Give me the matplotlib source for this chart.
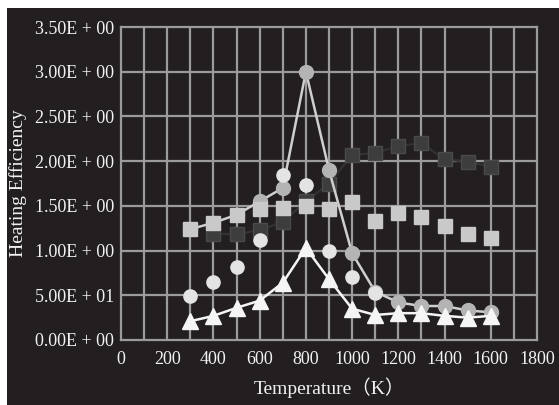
import matplotlib
matplotlib.use("Agg")
import matplotlib.pyplot as plt
import numpy as np

plt.rcParams['font.family'] = ['Liberation Serif', 'Noto Sans CJK JP']

temps = [300, 400, 500, 600, 700, 800, 900, 1000, 1100, 1200, 1300, 1400, 1500, 1600]

# gray circles, with the line that peaks at 800 K
gray_circ = [1.24, 1.31, 1.40, 1.55, 1.70, 3.00, 1.90, 0.97, 0.54, 0.42, 0.38, 0.38, 0.33, 0.31]
# light squares (markers only)
light_sq = [1.24, 1.31, 1.40, 1.47, 1.48, 1.50, 1.47, 1.54, 1.33, 1.42, 1.38, 1.28, 1.19, 1.14]
# dark squares
dark_t = [400, 500, 600, 700, 800, 900, 1000, 1100, 1200, 1300, 1400, 1500, 1600]
dark_sq = [1.19, 1.18, 1.23, 1.32, 1.55, 1.75, 2.07, 2.09, 2.17, 2.20, 2.02, 1.99, 1.94]
# light circles (markers only)
lc_t = [300, 400, 500, 600, 700, 800, 900, 1000, 1100]
light_circ = [0.49, 0.65, 0.82, 1.12, 1.85, 1.73, 0.99, 0.70, 0.52]
# triangles with white line
tri = [0.21, 0.27, 0.36, 0.44, 0.64, 1.03, 0.68, 0.35, 0.28, 0.30, 0.30, 0.27, 0.25, 0.27]

yticks = [0.0, 0.5, 1.0, 1.5, 2.0, 2.5, 3.0, 3.5]
ylabels = ['0.00E + 00', '5.00E + 01', '1.00E + 00', '1.50E + 00',
           '2.00E + 00', '2.50E + 00', '3.00E + 00', '3.50E + 00']
xticks = [0, 200, 400, 600, 800, 1000, 1200, 1400, 1600, 1800]
grid_x = [100, 200, 300, 400, 500, 600, 700, 800, 900, 1000, 1100, 1200, 1300, 1400, 1600, 1700]

bg = '#231f20'
gridc = '#9b9b9b'
txt = '#f2f2f2'

fig = plt.figure(figsize=(5.59, 4.05), dpi=100, facecolor='white')
fig.patches.append(plt.Rectangle((7 / 559, 0), 1, 1 - 8 / 405, transform=fig.transFigure,
                                 facecolor=bg, edgecolor='none', zorder=-10))
ax = fig.add_axes([121 / 559, 1 - 340 / 405, 416 / 559, 313 / 405])
ax.set_facecolor(bg)

ax.set_xlim(0, 1800)
ax.set_ylim(0, 3.5)
for gx in grid_x:
    ax.axvline(gx, color=gridc, lw=1.6, zorder=1)
for gy in yticks[1:-1]:
    ax.axhline(gy, color=gridc, lw=1.6, zorder=1)
for s in ax.spines.values():
    s.set_color(gridc)
    s.set_linewidth(1.6)

ax.plot(dark_t, dark_sq, color='#333333', lw=1.5, marker='s', ms=10,
        mfc='#3d3d3d', mec='#4a4a4a', zorder=3)
ax.plot(temps, gray_circ, color='#cfcfcf', lw=1.8, marker='o', ms=10,
        mfc='#b4b4b4', mec='#b4b4b4', zorder=4)
ax.plot(temps, light_sq, linestyle='none', marker='s', ms=10,
        mfc='#c9c9c9', mec='#c9c9c9', zorder=5)
ax.plot(lc_t, light_circ, linestyle='none', marker='o', ms=9.5,
        mfc='#e4e4e4', mec='#e4e4e4', zorder=5)
ax.plot(temps, tri, color='#f5f5f5', lw=1.8, marker='^', ms=11,
        mfc='#f5f5f5', mec='#f5f5f5', zorder=6)

ax.set_xticks(xticks)
ax.set_yticks(yticks)
ax.set_yticklabels(ylabels)
ax.tick_params(length=0, colors=txt, labelsize=13)
ax.tick_params(axis='x', pad=8)
ax.tick_params(axis='y', pad=5)
ax.set_xlabel('Temperature（K）', color=txt, fontsize=14, labelpad=7)
ax.set_ylabel('Heating Efficiency', color=txt, fontsize=14)
ax.yaxis.set_label_coords(-0.225, 0.5)

fig.savefig('out.png', dpi=100, facecolor=fig.get_facecolor())
